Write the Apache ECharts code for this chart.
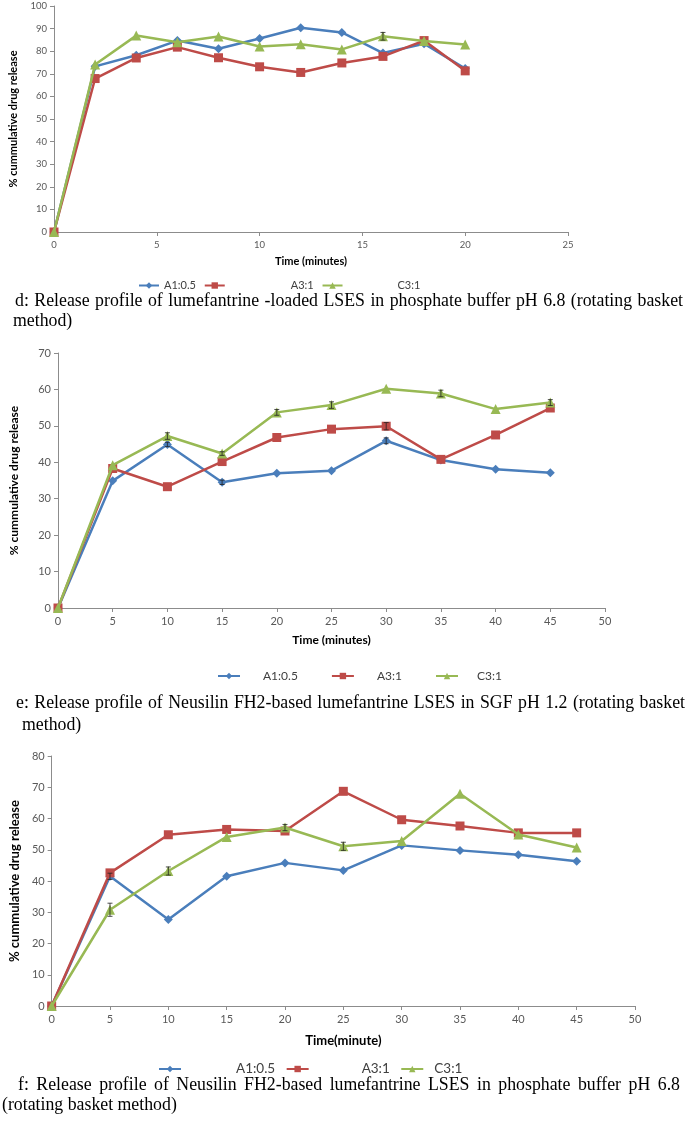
<!DOCTYPE html>
<html>
<head>
<meta charset="utf-8">
<script src="https://cdn.jsdelivr.net/npm/echarts@6.0.0/dist/echarts.min.js"></script>
<style>
  html, body { margin: 0; padding: 0; background: #fff; }
  #chart { position: absolute; left: 0; top: 0; width: 685px; height: 1121px; }
  .cap { position: absolute; font-family: 'Liberation Serif', 'Times New Roman', serif; font-size: 17.8px; line-height: 20px; color: #000; white-space: nowrap; }
  .just { text-align: justify; text-align-last: justify; }
</style>
</head>
<body>
<div id="chart"></div>
<div class="cap just" style="top:290px;left:15px;width:668px;">d: Release profile of lumefantrine -loaded LSES in phosphate buffer pH 6.8 (rotating basket</div>
<div class="cap" style="top:310px;left:13px;">method)</div>
<div class="cap just" style="top:692px;left:16px;width:669px;">e: Release profile of Neusilin FH2-based lumefantrine LSES in SGF pH 1.2 (rotating basket</div>
<div class="cap" style="top:714px;left:22px;">method)</div>
<div class="cap just" style="top:1074px;left:18px;width:662px;">f: Release profile of Neusilin FH2-based lumefantrine LSES in phosphate buffer pH 6.8</div>
<div class="cap" style="top:1094px;left:2px;">(rotating basket method)</div>
<script>
// ---------- DATA ----------
const seriesNames = ['A1:0.5', 'A3:1', 'C3:1'];

// Chart d (phosphate buffer pH 6.8, lumefantrine-loaded LSES)
const dTime = [0, 2, 4, 6, 8, 10, 12, 14, 16, 18, 20];
const dA1 = [0, 73.3, 78.2, 84.7, 81.1, 85.6, 90.4, 88.3, 79.2, 83.3, 72.3];
const dA3 = [0, 67.9, 77.0, 81.8, 77.1, 73.1, 70.6, 74.8, 77.7, 84.7, 71.3];
const dC3 = [0, 74.1, 86.9, 84.0, 86.5, 82.1, 83.1, 80.8, 86.6, 84.5, 83.0];
const dErrA1 = [0, 0, 0, 0, 0, 0, 0, 0, 0, 0, 0];
const dErrA3 = [0, 0, 0, 0, 0, 0, 0, 0, 0, 0, 0];
const dErrC3 = [0, 0, 0, 0, 0, 0, 0, 0, 1.7, 0, 0];

// Chart e (SGF pH 1.2)
const eTime = [0, 5, 10, 15, 20, 25, 30, 35, 40, 45];
const eA1 = [0, 34.9, 44.9, 34.5, 37.0, 37.7, 45.9, 40.6, 38.1, 37.1];
const eA3 = [0, 38.3, 33.3, 40.2, 46.8, 49.1, 49.9, 40.8, 47.5, 54.9];
const eC3 = [0, 39.2, 47.2, 42.4, 53.7, 55.7, 60.2, 58.9, 54.6, 56.4];
const eErrA1 = [0, 0, 0.6, 0.6, 0, 0, 0.8, 0, 0, 0];
const eErrA3 = [0, 0, 0, 0, 0, 0, 1.0, 0, 0, 0];
const eErrC3 = [0, 0, 0.9, 0.5, 0.8, 0.9, 0, 0.9, 0, 0.8];

// Chart f (phosphate buffer pH 6.8, Neusilin FH2-based)
const fTime = [0, 5, 10, 15, 20, 25, 30, 35, 40, 45];
const fA1 = [0, 41.5, 27.7, 41.5, 45.8, 43.4, 51.4, 49.8, 48.4, 46.3];
const fA3 = [0, 42.6, 54.8, 56.5, 56.0, 68.7, 59.6, 57.6, 55.4, 55.4];
const fC3 = [0, 30.8, 43.2, 54.1, 57.1, 51.1, 52.8, 67.9, 54.9, 50.7];
const fErrA1 = [0, 1.0, 0, 0, 0, 0, 0, 0, 0, 0];
const fErrA3 = [0, 0, 0, 0, 0, 0, 0, 0, 0, 0];
const fErrC3 = [0, 2.1, 1.3, 0, 1.0, 1.3, 0, 0, 0, 0];

// ---------- STYLE ----------
const colors = ['#4A7EBB', '#BE4B48', '#98B954'];
const symbols = ['diamond', 'rect', 'triangle'];
const symSizes = [9, 9, 10];
const tickFont = 'Lato, "Open Sans", sans-serif';
const axisColor = '#8C8C8C';
const labelColor = '#595959';

const panels = [
  { time: dTime, vals: [dA1, dA3, dC3], errs: [dErrA1, dErrA3, dErrC3],
    grid: { left: 41, top: 6, width: 527, height: 226 },
    x: { max: 25, interval: 5 }, y: { max: 100, interval: 10 },
    xName: 'Time (minutes)', yName: '% cummulative drug release',
    tickSize: 9.5, nameSize: 11, xNameGap: 24, yNameGap: 35,
    legend: { left: 133, top: 275, fontSize: 11, itemWidth: 20, itemGap: 5, lead: [0, 61, 50], trail: [0, 12, 0] } },
  { time: eTime, vals: [eA1, eA3, eC3], errs: [eErrA1, eErrA3, eErrC3],
    grid: { left: 54, top: 353, width: 551, height: 255 },
    x: { max: 50, interval: 5 }, y: { max: 70, interval: 10 },
    xName: 'Time (minutes)', yName: '% cummulative drug release',
    tickSize: 11, nameSize: 12, xNameGap: 26, yNameGap: 38,
    legend: { left: 212, top: 665, fontSize: 12, itemWidth: 22, itemGap: 30, lead: [18, 18, 14], trail: [12, 0, 0] } },
  { time: fTime, vals: [fA1, fA3, fC3], errs: [fErrA1, fErrA3, fErrC3],
    grid: { left: 48, top: 756, width: 587, height: 250 },
    x: { max: 50, interval: 5 }, y: { max: 80, interval: 10 },
    xName: 'Time(minute)', yName: '% cummulative drug release',
    tickSize: 11, nameSize: 13, xNameGap: 28, yNameGap: 25,
    legend: { left: 153, top: 1057, fontSize: 13.5, itemWidth: 22, itemGap: 7, lead: [50, 48, 6], trail: [0, 27, 0] } }
];

const option = {
  animation: false,
  backgroundColor: '#fff',
  grid: [], xAxis: [], yAxis: [], series: [], legend: []
};

panels.forEach((p, gi) => {
  option.grid.push(Object.assign({ containLabel: false }, p.grid));
  option.xAxis.push({
    type: 'value', gridIndex: gi, min: 0, max: p.x.max, interval: p.x.interval,
    name: p.xName, nameLocation: 'middle', nameGap: p.xNameGap,
    nameTextStyle: { fontFamily: tickFont, fontWeight: 'bold', fontSize: p.nameSize, color: '#000' },
    axisLine: { show: true, lineStyle: { color: axisColor, width: 1 } },
    axisTick: { show: true, length: 4, lineStyle: { color: axisColor } },
    axisLabel: { fontFamily: tickFont, fontSize: p.tickSize, color: labelColor, margin: 8 },
    splitLine: { show: false }
  });
  option.yAxis.push({
    type: 'value', gridIndex: gi, min: 0, max: p.y.max, interval: p.y.interval,
    name: p.yName, nameLocation: 'middle', nameGap: p.yNameGap, nameRotate: 90,
    nameTextStyle: { fontFamily: tickFont, fontWeight: 'bold', fontSize: p.nameSize, color: '#000' },
    axisLine: { show: true, lineStyle: { color: axisColor, width: 1 } },
    axisTick: { show: true, length: 4, lineStyle: { color: axisColor } },
    axisLabel: { fontFamily: tickFont, fontSize: p.tickSize, color: labelColor, margin: 7 },
    splitLine: { show: false }
  });
  seriesNames.forEach((name, si) => {
    option.series.push({
      type: 'line', name: name, xAxisIndex: gi, yAxisIndex: gi,
      data: p.time.map((t, i) => [t, p.vals[si][i]]),
      symbol: symbols[si], symbolSize: symSizes[si], showSymbol: true,
      itemStyle: { color: colors[si] },
      lineStyle: { color: colors[si], width: 2.5 },
      z: 2 + si
    });
  });
  // error bars
  const errData = [];
  seriesNames.forEach((name, si) => {
    p.time.forEach((t, i) => {
      if (p.errs[si][i] > 0) errData.push([t, p.vals[si][i], p.errs[si][i]]);
    });
  });
  option.series.push({
    type: 'custom', xAxisIndex: gi, yAxisIndex: gi, z: 10,
    data: errData,
    encode: { x: 0, y: 1 },
    renderItem: function (params, api) {
      const x = api.value(0), y = api.value(1), e = api.value(2);
      const top = api.coord([x, y + e]);
      const bot = api.coord([x, y - e]);
      const hw = 2.5;
      const st = { stroke: '#222', lineWidth: 0.8 };
      return { type: 'group', children: [
        { type: 'line', shape: { x1: top[0], y1: top[1], x2: bot[0], y2: bot[1] }, style: st },
        { type: 'line', shape: { x1: top[0] - hw, y1: top[1], x2: top[0] + hw, y2: top[1] }, style: st },
        { type: 'line', shape: { x1: bot[0] - hw, y1: bot[1], x2: bot[0] + hw, y2: bot[1] }, style: st }
      ]};
    }
  });
  const L = p.legend;
  const rich = {};
  seriesNames.forEach((n, i) => {
    rich['a' + i] = { width: L.lead[i] };
    rich['b' + i] = { width: L.trail[i] };
  });
  option.legend.push({
    left: L.left, top: L.top, orient: 'horizontal',
    itemWidth: L.itemWidth, itemHeight: 8, itemGap: L.itemGap,
    selectedMode: false,
    data: seriesNames.slice(),
    formatter: function (name) {
      const i = seriesNames.indexOf(name);
      return '{a' + i + '| }' + name + '{b' + i + '| }';
    },
    textStyle: { fontFamily: tickFont, fontSize: L.fontSize, color: '#404040', rich: rich }
  });
});

const chart = echarts.init(document.getElementById('chart'), null, { renderer: 'canvas' });
chart.setOption(option);
</script>
</body>
</html>
